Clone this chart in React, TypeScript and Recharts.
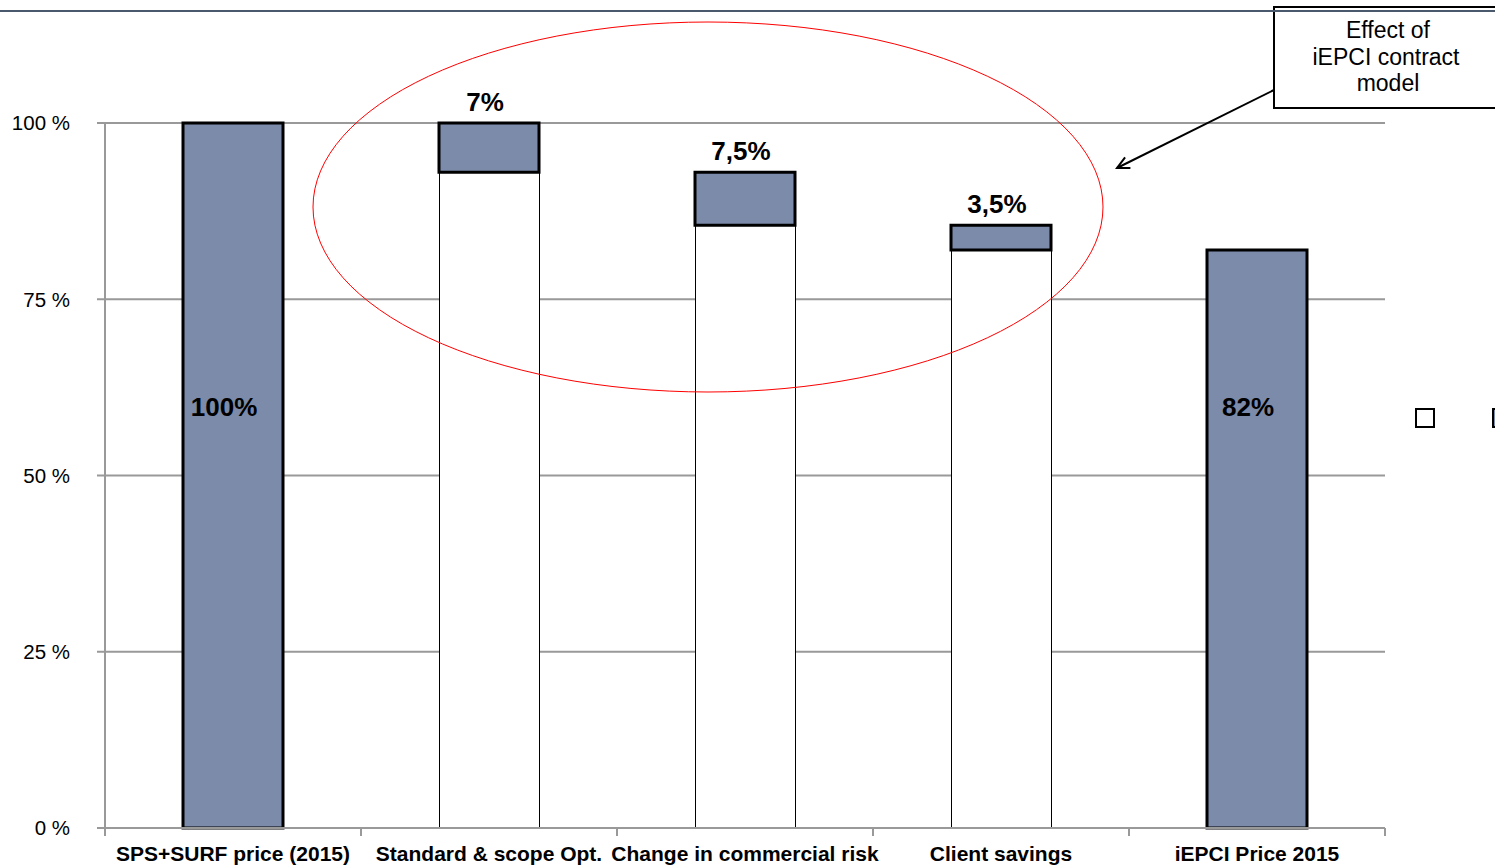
import { BarChart, Bar, XAxis, YAxis, CartesianGrid, LabelList, Legend, Cell } from "recharts";

const categories = [
    "SPS+SURF price (2015)",
    "Standard & scope Opt.",
    "Change in commercial risk",
    "Client savings",
    "iEPCI Price 2015",
];
const baseValues = [0, 93, 85.5, 82, 0];
const stepValues = [100, 7, 7.5, 3.5, 82];
const stepLabels = ["100%", "7%", "7,5%", "3,5%", "82%"];
const yTicks = [0, 25, 50, 75, 100];

const data = categories.map((name, i) => ({
    name,
    base: baseValues[i],
    step: stepValues[i],
    label: stepLabels[i],
}));

const W = 1495;
const H = 868;
const PLOT_LEFT = 105;
const PLOT_RIGHT = 1385;
const BAND = (PLOT_RIGHT - PLOT_LEFT) / categories.length;
const BLUE = "#7B8BA9";
const GRID = "#999999";
const FONT = "'Liberation Sans', Arial, sans-serif";
// inner labels of the full bars sit at about this level (in %)
const INSIDE_LEVEL = 59.5;

const XTick = (props: any) => {
    const { x, y, payload, index } = props;
    const left = x - BAND / 2;
    return (
        <g>
            <line x1={left} x2={left} y1={y - 8} y2={y} stroke={GRID} strokeWidth={2} />
            {index === categories.length - 1 && (
                <line x1={x + BAND / 2} x2={x + BAND / 2} y1={y - 8} y2={y} stroke={GRID} strokeWidth={2} />
            )}
            <text x={x} y={y + 25} textAnchor="middle" fontFamily={FONT} fontWeight="bold" fontSize={21} fill="#000">
                {payload.value}
            </text>
        </g>
    );
};

const StepLabel = (props: any) => {
    const { x, y, width, height, value, index } = props;
    const cx = x + width / 2;
    if (baseValues[index] === 0) {
        const bottom = y + height;
        const ty = bottom - (INSIDE_LEVEL / stepValues[index]) * height;
        return (
            <text x={cx - 9} y={ty + 7} textAnchor="middle" fontFamily={FONT} fontWeight="bold" fontSize={26} fill="#000">
                {value}
            </text>
        );
    }
    return (
        <text x={cx - 4} y={y - 12} textAnchor="middle" fontFamily={FONT} fontWeight="bold" fontSize={26} fill="#000">
            {value}
        </text>
    );
};

const LegendBoxes = () => (
    <div style={{ display: "flex", gap: 57 }}>
        <div style={{ width: 16, height: 16, border: "2px solid #000", background: "#fff" }} />
        <div style={{ width: 16, height: 16, border: "2px solid #000", background: BLUE }} />
    </div>
);

export default function App() {
    return (
        <div style={{ position: "absolute", left: 0, top: 0, width: W, height: H, background: "#fff" }}>
            <BarChart
                width={W}
                height={H}
                data={data}
                margin={{ top: 123, right: W - PLOT_RIGHT, bottom: 0, left: 0 }}
                barSize={100}
            >
                <CartesianGrid vertical={false} stroke={GRID} strokeWidth={2} />
                <XAxis
                    dataKey="name"
                    height={40}
                    axisLine={{ stroke: GRID, strokeWidth: 2 }}
                    tickLine={false}
                    tickSize={8}
                    tickMargin={0}
                    interval={0}
                    tick={<XTick />}
                />
                <YAxis
                    width={PLOT_LEFT}
                    domain={[0, 100]}
                    ticks={yTicks}
                    tickFormatter={(v: number) => `${v} %`}
                    axisLine={{ stroke: GRID, strokeWidth: 2 }}
                    tickLine={{ stroke: GRID, strokeWidth: 2 }}
                    tickSize={8}
                    tickMargin={27}
                    tick={{ fill: "#000", fontSize: 20.5, fontFamily: FONT }}
                />
                <Legend
                    layout="horizontal"
                    verticalAlign="middle"
                    align="center"
                    content={<LegendBoxes />}
                    wrapperStyle={{ left: 1415, top: 408, width: 120 }}
                />
                <Bar
                    dataKey="base"
                    stackId="a"
                    fill="#fff"
                    stroke="#000"
                    strokeWidth={1}
                    shapeRendering="crispEdges"
                    isAnimationActive={false}
                />
                <Bar dataKey="step" stackId="a" fill={BLUE} stroke="#000" strokeWidth={3} isAnimationActive={false}>
                    {data.map((d) => (
                        <Cell key={d.name} />
                    ))}
                    <LabelList dataKey="label" content={<StepLabel />} />
                </Bar>
            </BarChart>
            <svg
                width={W}
                height={H}
                style={{ position: "absolute", left: 0, top: 0, pointerEvents: "none" }}
            >
                <defs>
                    <marker id="arrowHead" markerWidth="16" markerHeight="16" refX="14" refY="8" orient="auto" markerUnits="userSpaceOnUse">
                        <path d="M2,2 L14,8 L2,14" fill="none" stroke="#000" strokeWidth="2" />
                    </marker>
                </defs>
                <ellipse cx={708} cy={207} rx={395} ry={185} fill="none" stroke="#ff0000" strokeWidth={1} />
                <rect x={1274} y={7} width={240} height={101} fill="#fff" stroke="#000" strokeWidth={2} />
                <line x1={0} x2={W} y1={11} y2={11} stroke="#4a5a6c" strokeWidth={2} />
                <text textAnchor="middle" fontFamily={FONT} fontSize={23} fill="#000">
                    <tspan x={1388} y={38}>Effect of</tspan>
                    <tspan x={1386} y={65}>iEPCI contract</tspan>
                    <tspan x={1388} y={91}>model</tspan>
                </text>
                <line x1={1274} y1={90} x2={1117} y2={168} stroke="#000" strokeWidth={2} markerEnd="url(#arrowHead)" />
            </svg>
        </div>
    );
}
